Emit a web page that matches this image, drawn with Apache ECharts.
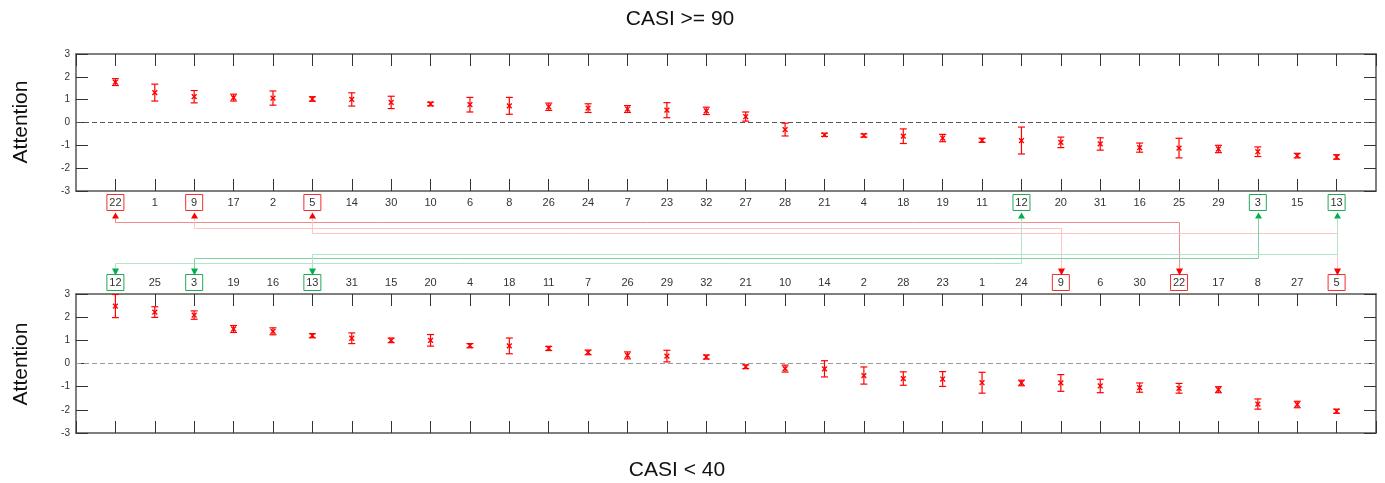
<!DOCTYPE html>
<html>
<head>
<meta charset="utf-8">
<script src="https://cdn.jsdelivr.net/npm/echarts@6/dist/echarts.min.js"></script>
<style>
html,body{margin:0;padding:0;background:#fff;}
#c{width:1385px;height:483px;}
</style>
</head>
<body>
<div id="c"></div>
<script>
// ---- data ----
const topLabels = ['22','1','9','17','2','5','14','30','10','6','8','26','24','7','23','32','27','28','21','4','18','19','11','12','20','31','16','25','29','3','15','13'];
const topMean = [1.77,1.31,1.13,1.09,1.07,1.03,1.01,0.88,0.81,0.78,0.73,0.69,0.63,0.59,0.54,0.51,0.26,-0.31,-0.54,-0.57,-0.60,-0.68,-0.78,-0.79,-0.87,-0.94,-1.10,-1.12,-1.16,-1.28,-1.45,-1.51];
const topErr  = [0.15,0.37,0.27,0.15,0.31,0.10,0.29,0.27,0.08,0.32,0.37,0.16,0.19,0.15,0.33,0.16,0.20,0.28,0.07,0.07,0.32,0.16,0.09,0.59,0.23,0.27,0.20,0.43,0.16,0.21,0.10,0.10];
const botLabels = ['12','25','3','19','16','13','31','15','20','4','18','11','7','26','29','32','21','10','14','2','28','23','1','24','9','6','30','22','17','8','27','5'];
const botMean = [2.48,2.22,2.09,1.49,1.39,1.20,1.09,1.00,1.00,0.77,0.76,0.65,0.48,0.35,0.32,0.28,-0.14,-0.22,-0.23,-0.52,-0.65,-0.67,-0.83,-0.84,-0.84,-0.97,-1.04,-1.07,-1.13,-1.75,-1.77,-2.06];
const botErr  = [0.50,0.23,0.18,0.15,0.15,0.09,0.23,0.10,0.25,0.09,0.34,0.09,0.10,0.15,0.25,0.09,0.08,0.15,0.35,0.37,0.29,0.32,0.45,0.12,0.36,0.29,0.20,0.21,0.13,0.22,0.14,0.09];
const redIds = ['22','9','5'];
const greenIds = ['12','3','13'];
const topTitle = 'CASI >= 90';
const botTitle = 'CASI < 40';
const yName = 'Attention';

const FONT = '"Liberation Sans", Arial, sans-serif';
const nCat = topLabels.length;

function labelFmt(labels){
  return function(v){
    const i = Math.round(v) - 1;
    if (i < 0 || i >= labels.length) return '';
    const t = labels[i];
    if (redIds.indexOf(t) >= 0) return '{r|' + t + '}';
    if (greenIds.indexOf(t) >= 0) return '{g|' + t + '}';
    return '{n|' + t + '}';
  };
}
const boxBase = {width:15, height:15, lineHeight:15, align:'center', fontSize:11, fontFamily:FONT, color:'#333', padding:[1,1,0,1]};
const rich = {
  n: Object.assign({}, boxBase),
  r: Object.assign({}, boxBase, {borderColor:'#f03030', borderWidth:1}),
  g: Object.assign({}, boxBase, {borderColor:'#20a855', borderWidth:1})
};

const axisLineStyle = {color:'#555', width:1.5};
function xAx(gridIndex, position, labels, showLabel){
  return {
    type:'value', gridIndex, position, min:0, max:nCat+1, interval:1,
    axisLine:{show:true, onZero:false, lineStyle:axisLineStyle},
    axisTick:{show:true, inside:true, length:12, lineStyle:{color:'#333', width:1}},
    splitLine:{show:false},
    axisLabel:{show:showLabel, margin:4, formatter: labels ? labelFmt(labels) : '', rich, interval:0, showMinLabel:false, showMaxLabel:false}
  };
}
function yAx(gridIndex, position, showLabel){
  return {
    type:'value', gridIndex, position, min:-3, max:3, interval:1,
    axisLine:{show:true, onZero:false, lineStyle:axisLineStyle},
    axisTick:{show:true, inside:true, length:12, lineStyle:{color:'#333', width:1}},
    splitLine:{show:false},
    axisLabel:{show:showLabel, margin:6, fontSize:10, fontFamily:FONT, color:'#333'}
  };
}

function renderErr(params, api){
  const x = api.value(0), m = api.value(1), e = api.value(2);
  const pc = api.coord([x, m]);
  const pt = api.coord([x, m + e]);
  const pb = api.coord([x, m - e]);
  const cw = 3.5, s = 2.4;
  const st = {stroke:'#ff0000', lineWidth:1.2};
  return {type:'group', children:[
    {type:'line', shape:{x1:pt[0], y1:pt[1], x2:pb[0], y2:pb[1]}, style:st},
    {type:'line', shape:{x1:pt[0]-cw, y1:pt[1], x2:pt[0]+cw, y2:pt[1]}, style:st},
    {type:'line', shape:{x1:pb[0]-cw, y1:pb[1], x2:pb[0]+cw, y2:pb[1]}, style:st},
    {type:'line', shape:{x1:pc[0]-s, y1:pc[1]-s, x2:pc[0]+s, y2:pc[1]+s}, style:{stroke:'#ff0000', lineWidth:1.4}},
    {type:'line', shape:{x1:pc[0]-s, y1:pc[1]+s, x2:pc[0]+s, y2:pc[1]-s}, style:{stroke:'#ff0000', lineWidth:1.4}}
  ]};
}

const topData = topMean.map((m,i)=>[i+1, m, topErr[i]]);
const botData = botMean.map((m,i)=>[i+1, m, botErr[i]]);

const chart = echarts.init(document.getElementById('c'), null, {renderer:'canvas'});
const option = {
  animation:false,
  backgroundColor:'#fff',
  grid:[
    {left:76, right:9, top:54, height:137},
    {left:76, right:9, top:294, height:139}
  ],
  xAxis:[
    xAx(0,'bottom',topLabels,true),
    xAx(0,'top',null,false),
    xAx(1,'top',botLabels,true),
    xAx(1,'bottom',null,false)
  ],
  yAxis:[
    yAx(0,'left',true), yAx(0,'right',false),
    yAx(1,'left',true), yAx(1,'right',false)
  ],
  series:[
    {type:'line', xAxisIndex:0, yAxisIndex:0, data:[[0,0],[nCat+1,0]], symbol:'none', silent:true,
     lineStyle:{color:'#555', width:1, type:[5,3]}, z:1},
    {type:'line', xAxisIndex:2, yAxisIndex:2, data:[[0,0],[nCat+1,0]], symbol:'none', silent:true,
     lineStyle:{color:'#999', width:1, type:[5,3]}, z:1},
    {type:'custom', xAxisIndex:0, yAxisIndex:0, renderItem:renderErr, data:topData, z:3, clip:true},
    {type:'custom', xAxisIndex:2, yAxisIndex:2, renderItem:renderErr, data:botData, z:3, clip:true}
  ]
};
chart.setOption(option);

// ---- titles, y names, connectors ----
const g = [];
g.push({type:'text', x:680, y:19, style:{text:topTitle, fontSize:21, fontFamily:FONT, fill:'#111', align:'center', verticalAlign:'middle'}});
g.push({type:'text', x:677, y:470, style:{text:botTitle, fontSize:21, fontFamily:FONT, fill:'#111', align:'center', verticalAlign:'middle'}});
g.push({type:'text', x:21, y:122, rotation:Math.PI/2, style:{text:yName, fontSize:21, fontFamily:FONT, fill:'#111', align:'center', verticalAlign:'middle'}});
g.push({type:'text', x:21, y:364, rotation:Math.PI/2, style:{text:yName, fontSize:21, fontFamily:FONT, fill:'#111', align:'center', verticalAlign:'middle'}});

const topArrowTip = 212.5, topArrowBase = 218.5;
const botArrowTip = 275.5, botArrowBase = 268.5;
function upArrow(x, color){ return {type:'polygon', shape:{points:[[x, topArrowTip],[x-3.5, topArrowBase],[x+3.5, topArrowBase]]}, style:{fill:color}, z:20}; }
function downArrow(x, color){ return {type:'polygon', shape:{points:[[x, botArrowTip],[x-3.5, botArrowBase],[x+3.5, botArrowBase]]}, style:{fill:color}, z:20}; }
function connector(id, lane, lineColor, arrowColor){
  const ti = topLabels.indexOf(id), bi = botLabels.indexOf(id);
  const xt = Math.round(chart.convertToPixel({xAxisIndex:0}, ti+1)) + 0.5;
  const xb = Math.round(chart.convertToPixel({xAxisIndex:2}, bi+1)) + 0.5;
  g.push({type:'polyline', shape:{points:[[xt, topArrowBase],[xt, lane],[xb, lane],[xb, botArrowBase]]}, style:{stroke:lineColor, lineWidth:1, fill:null}, z:10});
  g.push(upArrow(xt, arrowColor));
  g.push(downArrow(xb, arrowColor));
}
const redLanes = [222.5, 228.5, 233.5];
const redLineColors = ['#f28a8a', '#ffc4c4', '#ffc4c4'];
redIds.forEach((id,k)=>connector(id, redLanes[k], redLineColors[k], '#ff0000'));
const greenLanes = [263.5, 258.5, 254.5];
const greenLineColors = ['#b2e6c6', '#7fd3a2', '#b2e6c6'];
greenIds.forEach((id,k)=>connector(id, greenLanes[k], greenLineColors[k], '#00b050'));

chart.setOption({graphic: g});
</script>
</body>
</html>
